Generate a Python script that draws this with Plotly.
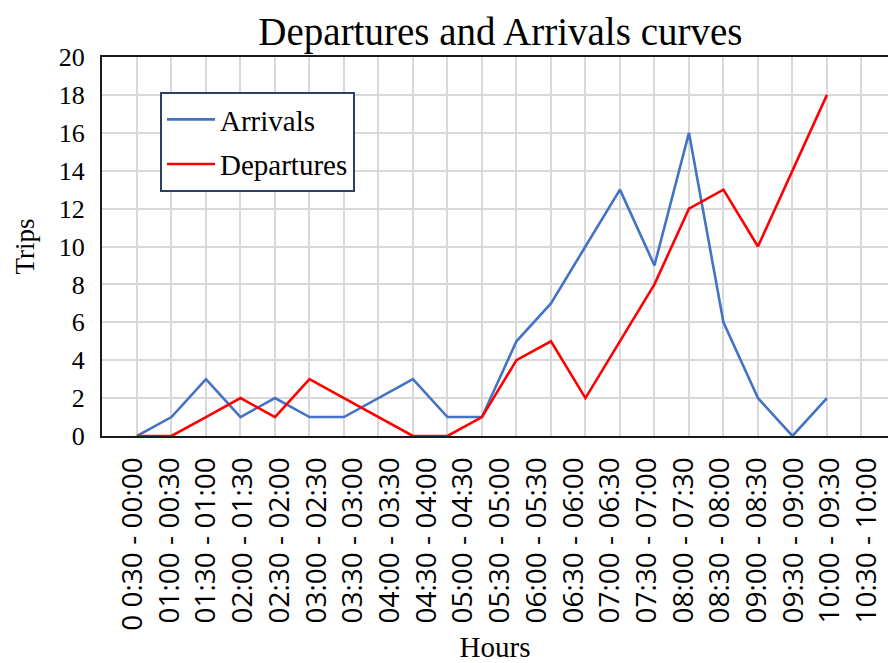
import plotly.graph_objects as go

# Half-hour intervals (as written on the axis)
hour_labels = [
    "0 0:30 - 00:00", "01:00 - 00:30", "01:30 - 01:00", "02:00 - 01:30",
    "02:30 - 02:00", "03:00 - 02:30", "03:30 - 03:00", "04:00 - 03:30",
    "04:30 - 04:00", "05:00 - 04:30", "05:30 - 05:00", "06:00 - 05:30",
    "06:30 - 06:00", "07:00 - 06:30", "07:30 - 07:00", "08:00 - 07:30",
    "08:30 - 08:00", "09:00 - 08:30", "09:30 - 09:00", "10:00 - 09:30",
    "10:30 - 10:00",
]

# Trips counted in each interval
arrivals = [0, 1, 3, 1, 2, 1, 1, 2, 3, 1, 1, 5, 7, 10, 13, 9, 16, 6, 2, 0, 2]
departures = [0, 0, 1, 2, 1, 3, 2, 1, 0, 0, 1, 4, 5, 2, 5, 8, 12, 13, 10, 14, 18]

y_ticks = list(range(0, 21, 2))

SERIF = "Liberation Serif"
SANS = "Open Sans"

# interval index -> x position; the labels are spread a little wider
# than the grid so the last one sits near the right edge
x_pos = list(range(len(hour_labels)))
LABEL_START, LABEL_STEP = -0.116, 1.064
label_pos = [LABEL_START + LABEL_STEP * i for i in x_pos]

fig = go.Figure()
fig.add_trace(go.Scatter(
    x=x_pos, y=arrivals, name="Arrivals", mode="lines",
    line=dict(color="#4472C4", width=2.6), legendgroup="a",
))
fig.add_trace(go.Scatter(
    x=x_pos, y=departures, name="Departures", mode="lines",
    line=dict(color="#FF0000", width=2.6), legendgroup="d",
))

fig.update_layout(
    width=888, height=663,
    margin=dict(l=102, r=0, t=57, b=227, autoexpand=False),
    paper_bgcolor="white", plot_bgcolor="white",
    title=dict(
        text="Departures and Arrivals curves",
        font=dict(family=SERIF, size=39, color="black"),
        x=0.5635, xanchor="center", y=1 - 31 / 663, yanchor="middle",
    ),
    xaxis=dict(
        range=[-1.014, 21.77], automargin=False,
        tickmode="array", tickvals=label_pos, ticktext=hour_labels,
        tickangle=-90, tickfont=dict(family=SANS, size=28, color="black"),
        ticks="", ticklabelstandoff=8, ticklabeloverflow="allow",
        showgrid=False,
        minor=dict(tick0=0, dtick=1, showgrid=True,
                   gridcolor="#D9D9D9", gridwidth=2, ticks=""),
        showline=True, linecolor="#1a1a1a", linewidth=2, mirror=True,
        zeroline=False,
        title=dict(text="Hours", font=dict(family=SERIF, size=29, color="black"),
                   standoff=22),
    ),
    yaxis=dict(
        range=[0, 20], tickmode="array", tickvals=y_ticks, automargin=False,
        tickfont=dict(family=SERIF, size=26, color="black"),
        ticks="", ticklabelstandoff=10,
        showgrid=True, gridcolor="#D9D9D9", gridwidth=2,
        showline=True, linecolor="#1a1a1a", linewidth=2,
        zeroline=False,
        title=dict(text="Trips", font=dict(family=SERIF, size=27, color="black"),
                   standoff=16),
    ),
    legend=dict(
        x=(160 - 102) / 786, y=(436 - 92) / 379, xanchor="left", yanchor="top",
        bgcolor="white", bordercolor="#2E3F66", borderwidth=2,
        font=dict(family=SERIF, size=29, color="black"),
        itemwidth=48, tracegroupgap=4,
    ),
    showlegend=True,
)

fig.write_html("out.html")
